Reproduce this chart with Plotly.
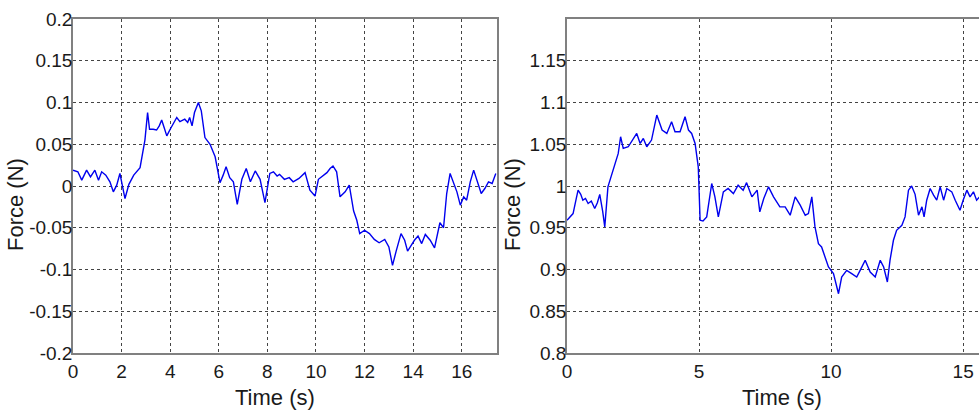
import plotly.graph_objects as go

# ---- data ----
t_left = [0.0, 0.2, 0.36, 0.56, 0.72, 0.9, 1.05, 1.18, 1.35, 1.52, 1.66, 1.8, 1.93, 2.05, 2.14,
          2.3, 2.5, 2.76, 2.96, 3.07, 3.15, 3.3, 3.44, 3.55, 3.65, 3.75, 3.86, 4.0, 4.15, 4.27,
          4.4, 4.6, 4.72, 4.8, 4.9, 5.0, 5.16, 5.28, 5.43, 5.64, 5.85, 6.05, 6.18, 6.3, 6.45,
          6.6, 6.76, 6.95, 7.13, 7.3, 7.5, 7.7, 7.9, 8.1, 8.25, 8.4, 8.5, 8.7, 8.9, 9.06, 9.3,
          9.55, 9.75, 9.96, 10.1, 10.3, 10.45, 10.58, 10.7, 10.85, 10.99, 11.2, 11.37, 11.55,
          11.68, 11.8, 12.0, 12.2, 12.4, 12.6, 12.83, 13.0, 13.15, 13.3, 13.5, 13.65, 13.77,
          13.9, 14.05, 14.2, 14.35, 14.5, 14.7, 14.88, 15.0, 15.1, 15.25, 15.38, 15.52, 15.65,
          15.8, 15.94, 16.08, 16.2, 16.35, 16.49, 16.65, 16.8, 16.95, 17.1, 17.25, 17.4]
f_left = [0.019, 0.017, 0.007, 0.019, 0.011, 0.019, 0.007, 0.017, 0.013, 0.005, -0.007, 0.001,
          0.015, 0.0, -0.015, 0.002, 0.013, 0.022, 0.055, 0.088, 0.068, 0.068, 0.067, 0.072,
          0.079, 0.07, 0.06, 0.068, 0.075, 0.082, 0.077, 0.08, 0.076, 0.082, 0.072, 0.088, 0.1,
          0.09, 0.058, 0.05, 0.035, 0.004, 0.013, 0.023, 0.01, 0.005, -0.022, 0.008, 0.021,
          0.005, 0.018, 0.008, -0.02, 0.015, 0.017, 0.012, 0.014, 0.008, 0.01, 0.005, 0.009,
          0.016, -0.005, -0.012, 0.008, 0.013, 0.016, 0.021, 0.024, 0.017, -0.013, -0.007,
          0.001, -0.03, -0.041, -0.057, -0.053, -0.057, -0.064, -0.068, -0.064, -0.073, -0.095,
          -0.078, -0.057, -0.065, -0.078, -0.072, -0.065, -0.06, -0.069, -0.058, -0.065,
          -0.074, -0.058, -0.044, -0.05, -0.009, 0.015, 0.005, -0.007, -0.023, -0.013, -0.017,
          0.005, 0.019, 0.003, -0.009, -0.003, 0.005, 0.003, 0.015]

t_right = [0.0, 0.12, 0.23, 0.35, 0.42, 0.52, 0.6, 0.7, 0.8, 0.92, 1.05, 1.15, 1.24, 1.35, 1.43,
           1.55, 1.74, 1.94, 2.03, 2.13, 2.32, 2.45, 2.64, 2.77, 2.89, 3.02, 3.2, 3.4, 3.6,
           3.78, 3.96, 4.09, 4.28, 4.47, 4.6, 4.72, 4.85, 4.97, 5.04, 5.15, 5.29, 5.48, 5.6,
           5.73, 5.92, 6.1, 6.3, 6.48, 6.67, 6.8, 7.0, 7.2, 7.3, 7.45, 7.63, 7.82, 8.06, 8.26,
           8.45, 8.64, 8.83, 9.02, 9.14, 9.27, 9.39, 9.52, 9.64, 9.77, 9.9, 10.09, 10.28, 10.4,
           10.59, 10.78, 10.97, 11.1, 11.29, 11.48, 11.67, 11.86, 11.99, 12.13, 12.23, 12.36,
           12.48, 12.68, 12.8, 12.93, 13.05, 13.18, 13.31, 13.44, 13.52, 13.62, 13.75, 13.88,
           14.0, 14.13, 14.26, 14.38, 14.57, 14.7, 14.88, 15.0, 15.14, 15.26, 15.39, 15.51, 15.62]
f_right = [0.959, 0.963, 0.967, 0.985, 0.995, 0.99, 0.983, 0.985, 0.979, 0.982, 0.973, 0.98,
           0.99, 0.97, 0.951, 0.999, 1.019, 1.039, 1.059, 1.045, 1.047, 1.053, 1.063, 1.051,
           1.057, 1.047, 1.055, 1.085, 1.067, 1.063, 1.077, 1.065, 1.065, 1.083, 1.067, 1.063,
           1.051, 1.023, 0.959, 0.958, 0.963, 1.003, 0.987, 0.963, 0.993, 0.997, 0.991, 1.001,
           0.995, 1.004, 0.987, 0.995, 0.969, 0.985, 0.999, 0.987, 0.975, 0.975, 0.965, 0.987,
           0.977, 0.965, 0.967, 0.987, 0.951, 0.931, 0.927, 0.915, 0.903, 0.895, 0.871, 0.891,
           0.899, 0.895, 0.891, 0.899, 0.911, 0.897, 0.891, 0.911, 0.903, 0.885, 0.911, 0.935,
           0.947, 0.953, 0.963, 0.995, 1.0, 0.99, 0.965, 0.975, 0.963, 0.983, 0.997, 0.989,
           0.983, 0.999, 0.983, 0.997, 0.993, 0.983, 0.971, 0.983, 0.995, 0.987, 0.993, 0.983,
           0.987]

left_xticks = [0, 2, 4, 6, 8, 10, 12, 14, 16]
left_yticks = [-0.2, -0.15, -0.1, -0.05, 0, 0.05, 0.1, 0.15, 0.2]
left_ytext = ["-0.2", "-0.15", "-0.1", "-0.05", "0", "0.05", "0.1", "0.15", "0.2"]
right_xticks = [0, 5, 10, 15]
right_yticks = [0.8, 0.85, 0.9, 0.95, 1.0, 1.05, 1.1, 1.15]
right_ytext = ["0.8", "0.85", "0.9", "0.95", "1", "1.05", "1.1", "1.15"]

W, H = 979, 411
FONT = "Liberation Sans, Arial, sans-serif"
LINE = "#0000ee"
AXC = "#808080"
GRID = "#444444"

fig = go.Figure()
fig.add_trace(go.Scatter(x=t_left, y=f_left, mode="lines", line=dict(color=LINE, width=1.4),
                         xaxis="x", yaxis="y", showlegend=False))
fig.add_trace(go.Scatter(x=t_right, y=f_right, mode="lines", line=dict(color=LINE, width=1.4),
                         xaxis="x2", yaxis="y2", showlegend=False))

ydom = [1 - 353 / H, 1 - 19 / H]
common_ax = dict(showline=True, linecolor=AXC, linewidth=1.5, showgrid=True, gridcolor=GRID,
                 griddash="dot", gridwidth=1, zeroline=False, ticks="", automargin=False,
                 tickfont=dict(family=FONT, size=19, color="#1a1a1a"))

fig.update_layout(
    width=W, height=H, margin=dict(l=0, r=0, t=0, b=0),
    paper_bgcolor="white", plot_bgcolor="white",
    xaxis=dict(domain=[73 / W, 497 / W], range=[0, 17.45], tickvals=left_xticks,
               mirror=True, anchor="y", **common_ax),
    yaxis=dict(domain=ydom, range=[-0.2, 0.2], tickvals=left_yticks, ticktext=left_ytext,
               mirror=True, anchor="x", ticklabelstandoff=-5, **common_ax),
    xaxis2=dict(domain=[567 / W, 1.0], range=[0, 15.6], tickvals=right_xticks,
                mirror=True, anchor="y2", **common_ax),
    yaxis2=dict(domain=ydom, range=[0.8, 1.2], tickvals=right_yticks, ticktext=right_ytext,
                mirror=False, anchor="x2", ticklabelstandoff=-5, **common_ax),
)

tf = dict(family=FONT, size=22, color="#1a1a1a")
fig.add_annotation(text="Time (s)", x=275 / W, y=1 - 397 / H, xref="paper", yref="paper",
                   showarrow=False, font=tf, xanchor="center", yanchor="middle")
fig.add_annotation(text="Time (s)", x=782 / W, y=1 - 397 / H, xref="paper", yref="paper",
                   showarrow=False, font=tf, xanchor="center", yanchor="middle")
fig.add_annotation(text="Force (N)", x=16 / W, y=1 - 205 / H, xref="paper", yref="paper",
                   showarrow=False, font=tf, textangle=-90, xanchor="center", yanchor="middle")
fig.add_annotation(text="Force (N)", x=513 / W, y=1 - 205 / H, xref="paper", yref="paper",
                   showarrow=False, font=tf, textangle=-90, xanchor="center", yanchor="middle")

fig.write_html("out.html", config={"displayModeBar": False},
               post_script="document.body.style.margin='0';document.body.style.overflow='hidden';")
